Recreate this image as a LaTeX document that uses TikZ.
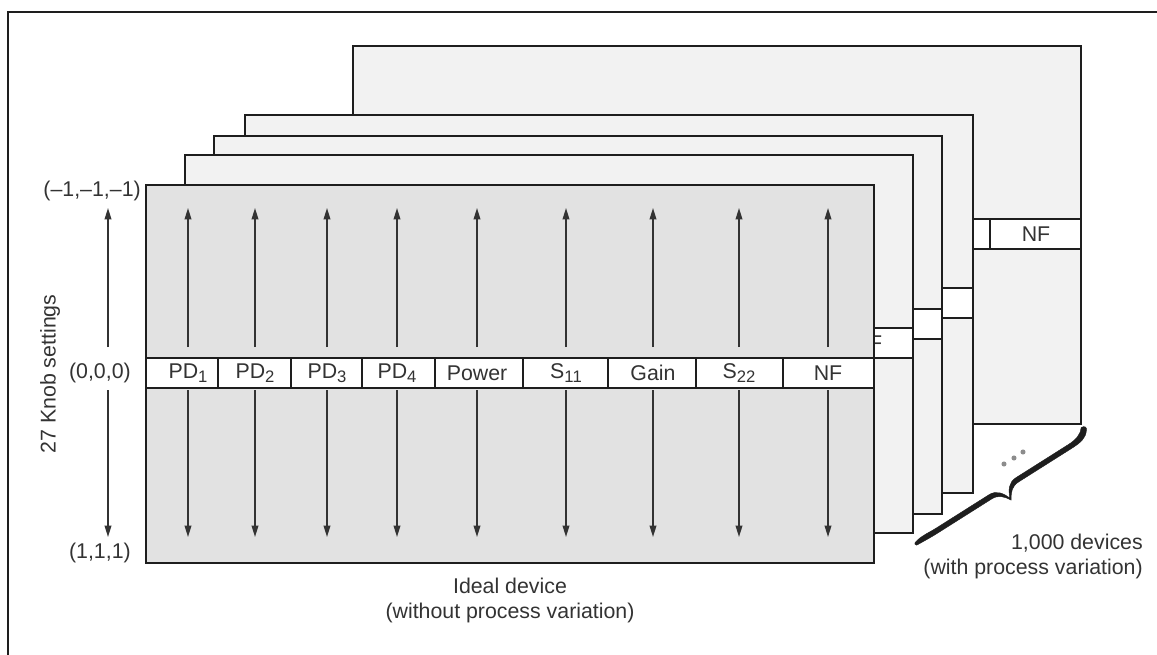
\documentclass[tikz,border=0pt]{standalone}
\usepackage{fontspec}
\setmainfont{Liberation Sans}
\usetikzlibrary{arrows.meta,calc}
\definecolor{ink}{HTML}{1E1E1E}
\definecolor{txt}{HTML}{333333}
\definecolor{frontfill}{HTML}{E2E2E2}
\definecolor{backfill}{HTML}{F2F2F2}
\definecolor{dotc}{HTML}{8C8C8C}
\newcommand{\sbs}[1]{\raisebox{-0.4ex}{\fontsize{12.5pt}{12pt}\selectfont #1}}
\tikzset{
  panel/.style={draw=ink, line width=1.1pt, anchor=north west, inner sep=0pt, outer sep=0pt,
    minimum width=546pt, minimum height=283.5pt},
  strip/.style={draw=ink, line width=1.1pt, fill=white, anchor=north west, inner sep=0pt, outer sep=0pt,
    minimum width=546pt, minimum height=22.5pt},
  lbl/.style={text=txt, inner sep=0pt, font=\fontsize{16pt}{19pt}\selectfont},
  divider/.style={draw=ink, line width=1.1pt},
  arr/.style={draw=txt, line width=1.1pt, -{Triangle[length=8.5pt,width=5pt]}},
  frame/.style={draw=ink, line width=1.2pt},
  bracefill/.style={fill=ink, draw=ink, line width=0.3pt, line join=round}
}
\begin{document}
\begin{tikzpicture}[x=0.75pt,y=-0.75pt]
\useasboundingbox (0,0) rectangle (1157,654);
\fill[white] (0,0) rectangle (1157,654);
% outer frame
\draw[frame] (8,660) -- (8,12) -- (1160,12);

% stacked panels (back to front)
\foreach \n/\dx/\dy/\f in {5/207/-139/backfill, 4/99/-70/backfill, 3/68/-49/backfill, 2/39/-30/backfill}{
  \node[panel, fill=\f] (P\n) at (146+\dx,185+\dy) {};
  \node[strip] (S\n) at (146+\dx,358+\dy) {};
  \draw[divider] (783+\dx,358+\dy) -- ++(0,30);
  \node[lbl] (NF\n) at (829+\dx,373+\dy) {NF};
}
% front panel
\node[panel, fill=frontfill] (P1) at (146,185) {};
\node[strip] (S1) at (146,358) {};
\foreach \x in {218,291,362,435,523,608,696,783}{
  \draw[divider] (\x,358) -- ++(0,30);
}
\foreach \i/\x/\t in {1/188/PD\sbs{1}, 2/255/PD\sbs{2}, 3/327/PD\sbs{3},
  4/397/PD\sbs{4}, 5/477/Power, 6/566/S\sbs{11}, 7/653/Gain,
  8/739/S\sbs{22}, 9/828/NF}{
  \node[lbl] (c\i) at (\x,373) {\t};
  \coordinate (ua\i) at (\x,347);
  \coordinate (ub\i) at (\x,208);
  \coordinate (da\i) at (\x,390);
  \coordinate (db\i) at (\x,537);
  \draw[arr] (ua\i) -- (ub\i);
  \draw[arr] (da\i) -- (db\i);
}

% left scale
\node[lbl, anchor=east] (top) at (141,191) {(–1,–1,–1)};
\node[lbl, anchor=east] (mid) at (131,373) {(0,0,0)};
\node[lbl, anchor=east] (bot) at (131,553) {(1,1,1)};
\coordinate (la) at (108,347);
\coordinate (lb) at (108,208);
\coordinate (lc) at (108,390);
\coordinate (ld) at (108,537);
\draw[arr] (la) -- (lb);
\draw[arr] (lc) -- (ld);
\node[lbl, rotate=90] (knob) at (50,374) {27 Knob settings};

% captions
\node[lbl, align=center] (ideal) at (510,600.5) {Ideal device\\(without process variation)};
\node[lbl, align=right, anchor=east] (devs) at (1143,556.5) {1,000 devices\\(with process variation)};

% tapered brace
\begin{scope}[shift={(917,542)}, rotate=32.3]
  \path[bracefill]
    (0,-1) .. controls (8,-3) and (14,-1.5) .. (24,-1.5) -- (86,-1.5)
      .. controls (95,-1.5) and (99,5) .. (102,12.5)
      .. controls (105,5) and (109,-1.5) .. (118,-1.5) -- (180,-1.5)
      .. controls (190,-1.5) and (196,-4) .. (200,-9)
      .. controls (204,-9) and (205,-6) .. (203,-4)
      .. controls (198,2.5) and (192,3.5) .. (180,3.5) -- (118,3.5)
      .. controls (110,3.5) and (106,8) .. (102,15)
      .. controls (98,8) and (94,3.5) .. (86,3.5) -- (24,3.5)
      .. controls (14,3.5) and (7,3) .. (-2,2.5)
      .. controls (-4,2) and (-3,-1) .. (0,-1) -- cycle;
\end{scope}
\fill[dotc] (1004,464) circle (1.9pt);
\fill[dotc] (1014,458) circle (1.9pt);
\fill[dotc] (1023,452) circle (1.9pt);
\end{tikzpicture}
\end{document}
